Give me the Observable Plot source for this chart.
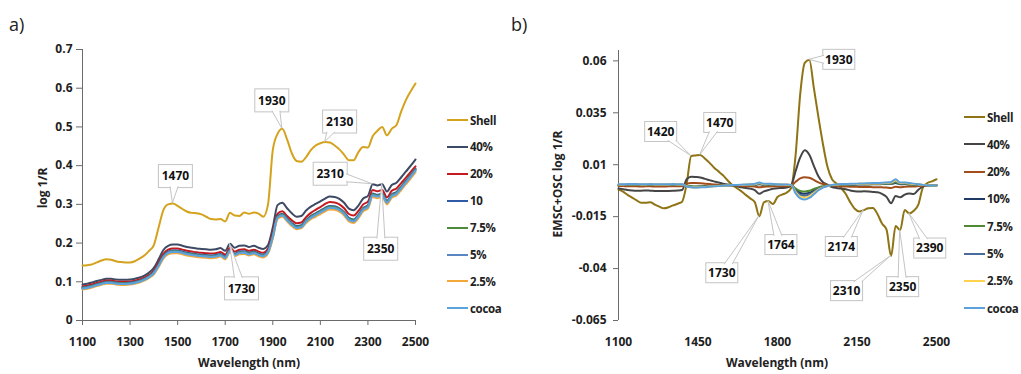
<!DOCTYPE html>
<html>
<head>
<meta charset="utf-8">
<script src="https://cdn.jsdelivr.net/npm/d3@7"></script>
<script src="https://cdn.jsdelivr.net/npm/@observablehq/plot@0.6"></script>
<style>
  body { margin: 0; background: #fff; }
  #root { position: relative; width: 1021px; height: 374px; overflow: hidden;
          font-family: 'Open Sans', sans-serif; color: #222; }
  .abs { position: absolute; white-space: nowrap; }
  .tag { font-size: 18px; font-weight: 400; }
  .title-x { font-weight: 700; font-size: 12px; transform: translate(-50%, -50%); }
  .title-y { font-weight: 700; font-size: 12px; transform: translate(-50%, -50%) rotate(-90deg); }
  .legend-row { position: absolute; display: flex; align-items: center; height: 16px;
                font-weight: 700; font-size: 11.5px; letter-spacing: -0.3px; white-space: nowrap; }
  .swatch { display: inline-block; width: 21px; height: 2px; margin-right: 2px; }
</style>
</head>
<body>
<div id="root">
  <div id="panelA" class="abs" style="left:0;top:0"></div>
  <div id="panelB" class="abs" style="left:510px;top:0"></div>
  <div class="abs tag" style="left:9px;top:12px">a)</div>
  <div class="abs tag" style="left:511px;top:12px">b)</div>
  <div class="abs title-y" style="left:42px;top:188px">log 1/R</div>
  <div class="abs title-x" style="left:249px;top:362px">Wavelength (nm)</div>
  <div class="abs title-y" style="left:557px;top:184px">EMSC+OSC log 1/R</div>
  <div class="abs title-x" style="left:777px;top:362px">Wavelength (nm)</div>
</div>
<script>
// Wavelength grid shared by every spectrum (nm)
const wavelengths = [
  1100,1120,1140,1160,1180,1200,1220,1240,1260,1280,
  1300,1320,1340,1360,1380,1400,1420,1440,1460,1480,
  1500,1520,1540,1560,1580,1600,1620,1640,1660,1680,
  1700,1720,1740,1760,1780,1800,1820,1840,1860,1880,
  1900,1920,1940,1960,1980,2000,2020,2040,2060,2080,
  2100,2120,2140,2160,2180,2200,2220,2240,2260,2280,
  2300,2320,2340,2360,2380,2400,2420,2440,2460,2480,
  2500
];

const seriesNamesA = ["Shell", "40%", "20%", "10", "7.5%", "5%", "2.5%", "cocoa"];
const seriesNamesB = ["Shell", "40%", "20%", "10%", "7.5%", "5%", "2.5%", "cocoa"];

// (a) raw spectra, log 1/R
const shellA = [
  .142,.143,.145,.150,.155,.158,.157,.153,.151,.150,
  .150,.153,.160,.168,.180,.195,.240,.285,.300,.302,
  .296,.288,.281,.278,.277,.274,.268,.262,.261,.262,
  .256,.278,.271,.270,.279,.276,.279,.276,.268,.300,
  .440,.482,.495,.468,.432,.412,.410,.422,.440,.452,
  .458,.461,.460,.452,.442,.428,.414,.414,.435,.448,
  .447,.476,.490,.500,.478,.495,.505,.540,.570,.592,
  .612
];
const pct40A = [
  .093,.095,.098,.102,.105,.108,.108,.106,.105,.105,
  .106,.108,.111,.116,.124,.136,.158,.182,.193,.196,
  .196,.193,.190,.188,.186,.185,.184,.183,.184,.187,
  .180,.198,.188,.193,.194,.190,.193,.188,.185,.195,
  .240,.298,.304,.290,.277,.268,.270,.284,.294,.301,
  .308,.315,.320,.319,.314,.304,.289,.285,.297,.315,
  .322,.352,.349,.352,.333,.350,.356,.370,.385,.400,
  .416
];
const pct20A = [
  .088,.090,.093,.097,.100,.103,.103,.101,.100,.100,
  .101,.103,.106,.111,.118,.129,.150,.172,.183,.186,
  .186,.183,.180,.178,.176,.175,.174,.173,.174,.177,
  .170,.188,.178,.183,.184,.180,.183,.178,.175,.185,
  .228,.276,.282,.270,.259,.251,.253,.267,.278,.286,
  .293,.301,.306,.305,.300,.290,.275,.271,.283,.300,
  .307,.337,.334,.337,.318,.335,.341,.355,.369,.384,
  .398
];
const pct10A = [
  .085,.087,.090,.094,.097,.100,.100,.098,.097,.097,
  .098,.100,.103,.108,.115,.126,.145,.167,.178,.181,
  .181,.178,.175,.173,.171,.170,.169,.168,.169,.172,
  .165,.183,.173,.178,.179,.175,.178,.173,.170,.180,
  .220,.270,.276,.264,.252,.244,.246,.260,.270,.277,
  .284,.291,.296,.295,.290,.280,.265,.261,.273,.291,
  .298,.328,.325,.328,.309,.326,.332,.346,.361,.376,
  .392
];
const pct7_5A = [
  .084,.086,.089,.093,.096,.099,.099,.097,.096,.096,
  .097,.099,.102,.107,.114,.124,.143,.165,.176,.179,
  .179,.176,.173,.171,.169,.168,.167,.166,.167,.170,
  .163,.181,.171,.176,.177,.173,.176,.171,.168,.178,
  .218,.268,.274,.262,.250,.242,.244,.258,.268,.275,
  .282,.289,.294,.293,.288,.278,.263,.259,.271,.289,
  .296,.326,.323,.326,.307,.324,.330,.344,.359,.374,
  .390
];
const pct5A = [
  .083,.085,.088,.092,.095,.098,.098,.096,.095,.095,
  .096,.098,.101,.106,.113,.123,.142,.164,.175,.178,
  .178,.175,.172,.170,.168,.167,.166,.165,.166,.169,
  .162,.180,.170,.175,.176,.172,.175,.170,.167,.177,
  .216,.266,.272,.260,.248,.240,.242,.256,.266,.273,
  .280,.287,.292,.291,.286,.276,.261,.257,.269,.287,
  .294,.324,.321,.324,.305,.322,.328,.342,.357,.372,
  .388
];
const pct2_5A = [
  .080,.082,.085,.089,.092,.095,.095,.093,.092,.092,
  .093,.095,.098,.103,.110,.119,.138,.160,.171,.174,
  .174,.171,.168,.166,.164,.163,.162,.161,.162,.165,
  .158,.176,.166,.171,.172,.168,.171,.166,.163,.173,
  .211,.262,.268,.256,.244,.236,.238,.252,.262,.268,
  .275,.282,.287,.286,.281,.271,.256,.252,.264,.282,
  .289,.319,.316,.319,.300,.317,.323,.337,.352,.367,
  .383
];
const cocoaA = [
  .082,.084,.087,.091,.094,.097,.097,.095,.094,.094,
  .095,.097,.100,.105,.112,.122,.141,.163,.174,.177,
  .177,.174,.171,.169,.167,.166,.165,.164,.165,.168,
  .161,.179,.169,.174,.175,.171,.174,.169,.166,.176,
  .215,.265,.271,.259,.247,.239,.241,.255,.265,.272,
  .279,.286,.291,.290,.285,.275,.260,.256,.268,.286,
  .293,.323,.320,.323,.304,.321,.327,.341,.356,.371,
  .387
];

// (b) EMSC + OSC corrected spectra
const shellB = [
  -.0020,-.0030,-.0045,-.0058,-.0072,-.0083,-.0083,-.0081,-.0092,-.0102,
  -.0110,-.0105,-.0096,-.0088,-.0078,.0007,.0142,.0145,.0147,.0130,
  .0110,.0087,.0068,.0049,.0025,.0003,-.0012,-.0027,-.0045,-.0062,
  -.0080,-.0148,-.0081,-.0075,-.0089,-.0055,-.0044,-.0035,-.0012,.0150,
  .0440,.0590,.0605,.0470,.0330,.0200,.0090,.0030,.0010,-.0012,
  -.0040,-.0080,-.0112,-.0125,-.0118,-.0110,-.0108,-.0137,-.0183,-.0212,
  -.0340,-.0195,-.0215,-.0118,-.0135,-.0122,-.0092,-.0010,.0012,.0020,
  .0030
];
const pct40B = [
  -.0014,-.0018,-.0022,-.0024,-.0025,-.0025,-.0024,-.0025,-.0026,-.0027,
  -.0027,-.0026,-.0025,-.0024,-.0022,.0030,.0042,.0041,.0039,.0032,
  .0026,.0020,.0014,.0009,.0005,.0003,-.0004,-.0008,-.0012,-.0015,
  -.0022,-.0040,-.0028,-.0022,-.0016,-.0013,-.0012,-.0010,.0000,.0070,
  .0135,.0170,.0148,.0095,.0045,.0016,.0004,-.0008,-.0012,-.0015,
  -.0018,-.0024,-.0028,-.0029,-.0028,-.0029,-.0031,-.0033,-.0040,-.0055,
  -.0085,-.0050,-.0057,-.0044,-.0039,-.0041,-.0020,-.0005,.0000,.0002,
  .0003
];
const pct20B = [
  -.0003,-.0003,-.0004,-.0004,-.0004,-.0005,-.0004,-.0004,-.0005,-.0005,
  -.0005,-.0004,-.0004,-.0004,-.0003,.0008,.0012,.0012,.0011,.0009,
  .0007,.0005,.0003,.0002,.0001,.0000,-.0002,-.0003,-.0004,-.0004,
  -.0005,-.0009,-.0006,-.0005,-.0004,-.0004,-.0003,-.0003,.0000,.0018,
  .0034,.0040,.0037,.0027,.0015,.0007,.0003,.0000,-.0003,-.0004,
  -.0005,-.0006,-.0006,-.0007,-.0007,-.0007,-.0008,-.0008,-.0009,-.0010,
  -.0012,-.0006,-.0008,-.0006,-.0005,-.0005,-.0003,-.0001,.0000,.0000,
  .0000
];
const pct10B = [
  .0002,.0002,.0002,.0003,.0003,.0002,.0002,.0003,.0002,.0002,
  .0002,.0002,.0003,.0002,.0002,-.0002,-.0005,-.0006,-.0005,-.0004,
  -.0003,-.0002,-.0002,-.0001,.0000,.0000,.0001,.0002,.0002,.0003,
  .0003,.0006,.0003,.0004,.0003,.0002,.0002,.0002,.0001,-.0020,
  -.0036,-.0040,-.0035,-.0024,-.0013,-.0006,-.0002,.0001,.0002,.0003,
  .0003,.0004,.0004,.0005,.0005,.0005,.0006,.0006,.0007,.0008,
  .0008,.0012,.0006,.0007,.0005,.0004,.0003,.0002,.0001,.0000,
  .0000
];
const pct7_5B = [
  .0003,.0003,.0003,.0003,.0004,.0003,.0003,.0004,.0003,.0003,
  .0003,.0003,.0004,.0003,.0003,-.0002,-.0004,-.0005,-.0005,-.0004,
  -.0003,-.0002,-.0001,.0000,.0001,.0001,.0002,.0002,.0003,.0003,
  .0004,.0008,.0004,.0005,.0004,.0003,.0003,.0003,.0002,-.0015,
  -.0026,-.0029,-.0025,-.0017,-.0009,-.0004,-.0001,.0002,.0003,.0004,
  .0004,.0005,.0005,.0006,.0006,.0006,.0007,.0007,.0008,.0009,
  .0010,.0016,.0008,.0009,.0006,.0005,.0004,.0002,.0001,.0000,
  .0000
];
const pct5B = [
  .0004,.0004,.0004,.0005,.0005,.0004,.0004,.0005,.0004,.0004,
  .0004,.0004,.0005,.0004,.0004,-.0003,-.0007,-.0008,-.0007,-.0006,
  -.0004,-.0003,-.0002,-.0001,.0000,.0001,.0002,.0003,.0003,.0004,
  .0005,.0010,.0005,.0006,.0005,.0004,.0004,.0004,.0002,-.0026,
  -.0045,-.0049,-.0043,-.0030,-.0016,-.0007,-.0002,.0002,.0004,.0005,
  .0005,.0006,.0006,.0007,.0007,.0008,.0008,.0009,.0010,.0011,
  .0012,.0020,.0010,.0011,.0008,.0006,.0005,.0003,.0001,.0000,
  .0000
];
const pct2_5B = [
  .0005,.0005,.0006,.0006,.0006,.0005,.0005,.0006,.0005,.0005,
  .0005,.0005,.0006,.0005,.0005,-.0004,-.0008,-.0009,-.0008,-.0007,
  -.0005,-.0004,-.0002,-.0001,.0000,.0001,.0003,.0003,.0004,.0005,
  .0006,.0012,.0006,.0007,.0006,.0005,.0005,.0004,.0002,-.0032,
  -.0054,-.0059,-.0052,-.0036,-.0020,-.0009,-.0003,.0002,.0004,.0006,
  .0006,.0007,.0007,.0008,.0009,.0009,.0010,.0010,.0011,.0013,
  .0014,.0024,.0012,.0013,.0010,.0007,.0005,.0003,.0001,.0000,
  .0000
];
const cocoaB = [
  .0006,.0006,.0007,.0007,.0007,.0006,.0006,.0007,.0006,.0006,
  .0006,.0006,.0007,.0006,.0006,-.0005,-.0009,-.0010,-.0009,-.0008,
  -.0006,-.0004,-.0003,-.0001,.0000,.0002,.0003,.0004,.0005,.0006,
  .0008,.0015,.0008,.0009,.0007,.0006,.0005,.0005,.0003,-.0038,
  -.0062,-.0068,-.0060,-.0042,-.0023,-.0010,-.0003,.0003,.0005,.0007,
  .0007,.0008,.0008,.0010,.0010,.0011,.0012,.0012,.0013,.0015,
  .0017,.0030,.0014,.0015,.0012,.0009,.0006,.0003,.0001,.0000,
  .0000
];

// Axis ticks
const xTicksA = [1100, 1300, 1500, 1700, 1900, 2100, 2300, 2500];
const yTicksA = [0, 0.1, 0.2, 0.3, 0.4, 0.5, 0.6, 0.7];
const xTicksB = [1100, 1450, 1800, 2150, 2500];
const yTicksB = [0.06, 0.035, 0.01, -0.015, -0.04, -0.065];

// Peak labels: wavelength, the spectrum it marks, and whether it is a maximum or minimum
const calloutsA = [
  {label: 1470, series: "Shell", peak: "max"},
  {label: 1930, series: "Shell", peak: "max"},
  {label: 2130, series: "Shell", peak: "max"},
  {label: 2310, series: "40%", peak: "max"},
  {label: 2350, series: "40%", peak: "max"},
  {label: 1730, series: "40%", peak: "max"}
];
const calloutsB = [
  {label: 1420, series: "Shell", peak: "max"},
  {label: 1470, series: "Shell", peak: "max"},
  {label: 1930, series: "Shell", peak: "max"},
  {label: 1730, series: "Shell", peak: "min"},
  {label: 1764, series: "Shell", peak: "max"},
  {label: 2174, series: "Shell", peak: "min"},
  {label: 2310, series: "Shell", peak: "min"},
  {label: 2350, series: "Shell", peak: "min"},
  {label: 2390, series: "Shell", peak: "min"}
];

// ---- styling / layout ----
const colorsA = ["#D4A21C", "#3D4A66", "#C41A1F", "#2F5CA5", "#4E8A3A", "#5A86C4", "#F5A83A", "#5BA3DC"];
const colorsB = ["#8E7414", "#454545", "#A24E1C", "#203A68", "#4F8A33", "#4A6C9A", "#FFD24D", "#5BA0DA"];
const calloutOffsetsA = [[3, -27], [-10, -28], [15, -20], [-42, -10], [-1, 65], [12, 45]];
const calloutOffsetsB = [[-30, -24], [20, -32], [30, 0], [-37, 57], [13, 44], [-22, 37], [-44, 35], [3, 57], [21, 35]];
const axisColor = "#6b6b6b";
const textColor = "#1e1e1e";
const baseStyle = {fontFamily: "'Open Sans', sans-serif", fontSize: "12px", fontWeight: 700,
                   color: textColor, background: "transparent", overflow: "visible"};

const valuesA = [shellA, pct40A, pct20A, pct10A, pct7_5A, pct5A, pct2_5A, cocoaA];
const valuesB = [shellB, pct40B, pct20B, pct10B, pct7_5B, pct5B, pct2_5B, cocoaB];

function spectrumLines(values, colors) {
  return values.map((vals, i) =>
    Plot.line(vals, {x: wavelengths, y: vals, stroke: colors[i], strokeWidth: 2,
                     curve: "monotone-x", strokeLinejoin: "round"}));
}

// Boxed labels with a wedge pointer to the spectral feature
function drawCallouts(svg, names, values, notes, offsets, box) {
  const sx = svg.scale("x"), sy = svg.scale("y");
  const layer = d3.select(svg).append("g")
    .attr("font-size", box.font).attr("font-weight", 700)
    .attr("font-family", "'Open Sans', sans-serif");
  notes.forEach((n, k) => {
    const vals = values[names.indexOf(n.series)];
    let best = -1;
    wavelengths.forEach((w, i) => {
      if (Math.abs(w - n.label) > 10) return;
      if (best < 0 || (n.peak === "max" ? vals[i] > vals[best] : vals[i] < vals[best])) best = i;
    });
    const tx = sx.apply(wavelengths[best]), ty = sy.apply(vals[best]);
    const cx = tx + offsets[k][0], cy = ty + offsets[k][1];
    const hw = box.w / 2, hh = box.h / 2, half = 4;
    const ux = tx - cx, uy = ty - cy;
    const t = Math.min(ux ? hw / Math.abs(ux) : Infinity, uy ? hh / Math.abs(uy) : Infinity);
    const ex = cx + ux * t, ey = cy + uy * t;
    let b1, b2;
    if (Math.abs(Math.abs(ey - cy) - hh) < 0.01) {
      const bx = Math.max(cx - hw + half + 1, Math.min(cx + hw - half - 1, ex));
      const by = ey - Math.sign(uy) * 1.2;
      b1 = [bx - half, by]; b2 = [bx + half, by];
    } else {
      const by = Math.max(cy - hh + half + 1, Math.min(cy + hh - half - 1, ey));
      const bx = ex - Math.sign(ux) * 1.2;
      b1 = [bx, by - half]; b2 = [bx, by + half];
    }
    layer.append("rect")
      .attr("x", cx - hw).attr("y", cy - hh).attr("width", box.w).attr("height", box.h)
      .attr("fill", "#fff").attr("stroke", "#c4c4c4").attr("stroke-width", 1);
    layer.append("path")
      .attr("d", `M${b1[0]},${b1[1]}L${tx},${ty}L${b2[0]},${b2[1]}`)
      .attr("fill", "#fff").attr("stroke", "#c4c4c4").attr("stroke-width", 1);
    layer.append("text")
      .attr("x", cx).attr("y", cy).attr("dy", "0.36em")
      .attr("text-anchor", "middle").attr("fill", "#111")
      .text(n.label);
  });
}

// ---- panel (a) ----
const chartA = Plot.plot({
  width: 510, height: 374,
  marginLeft: 82, marginRight: 95, marginTop: 49, marginBottom: 54,
  style: baseStyle,
  x: {domain: [1100, 2500]},
  y: {domain: [0, 0.7]},
  marks: [
    Plot.ruleY([0], {stroke: axisColor}),
    Plot.ruleX([1100], {stroke: axisColor}),
    Plot.axisY({ticks: yTicksA, tickSize: 6, tickPadding: 4, label: null,
                stroke: axisColor, fill: textColor,
                tickFormat: d => d === 0 ? "0" : d.toFixed(1)}),
    Plot.axisX({ticks: xTicksA, tickSize: 5, tickPadding: 12, label: null,
                stroke: axisColor, fill: textColor, tickFormat: d => String(d)}),
    ...spectrumLines(valuesA, colorsA)
  ]
});
document.getElementById("panelA").append(chartA);
drawCallouts(chartA, seriesNamesA, valuesA, calloutsA, calloutOffsetsA, {w: 34, h: 23, font: 12});

// ---- panel (b) ----
const chartB = Plot.plot({
  width: 511, height: 374,
  marginLeft: 108, marginRight: 85, marginTop: 50, marginBottom: 54,
  style: baseStyle,
  x: {domain: [1100, 2500]},
  y: {domain: [-0.065, 0.065]},
  marks: [
    Plot.ruleX([1100], {stroke: axisColor}),
    Plot.axisY({ticks: yTicksB, tickSize: 5, tickPadding: 7, label: null,
                stroke: axisColor, fill: textColor, tickFormat: d => String(d)}),
    Plot.axisX({ticks: xTicksB, tickSize: 0, tickPadding: 17, label: null,
                fill: textColor, tickFormat: d => String(d)}),
    ...spectrumLines(valuesB, colorsB)
  ]
});
document.getElementById("panelB").append(chartB);
drawCallouts(chartB, seriesNamesB, valuesB, calloutsB, calloutOffsetsB, {w: 32, h: 20, font: 12});

// ---- legends ----
function legend(names, colors, left, top, step) {
  const root = document.getElementById("root");
  names.forEach((name, i) => {
    const row = document.createElement("div");
    row.className = "legend-row";
    row.style.left = left + "px";
    row.style.top = (top + i * step - 8) + "px";
    const sw = document.createElement("span");
    sw.className = "swatch";
    sw.style.background = colors[i];
    row.append(sw, document.createTextNode(name));
    root.append(row);
  });
}
legend(seriesNamesA, colorsA, 447, 120, 26.9);
legend(seriesNamesB, colorsB, 964, 117, 27.3);
</script>
</body>
</html>
